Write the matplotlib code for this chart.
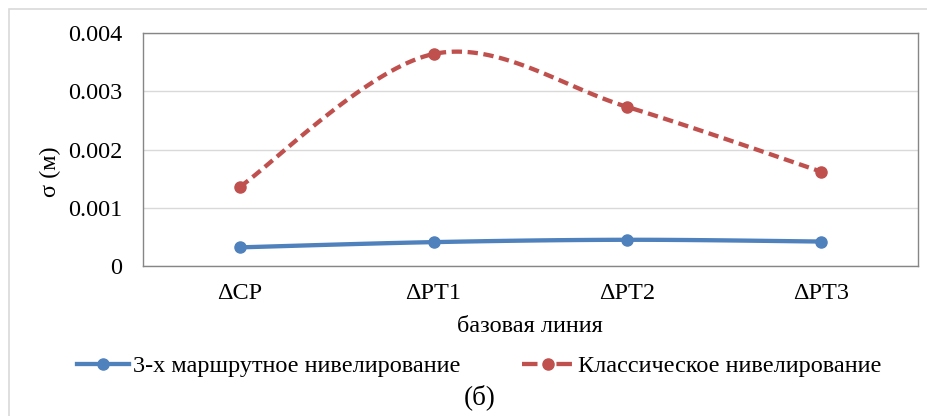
import numpy as np
import matplotlib
matplotlib.use("Agg")
import matplotlib.pyplot as plt
from matplotlib.patches import Rectangle
from matplotlib.lines import Line2D

categories = ["ΔCP", "ΔPT1", "ΔPT2", "ΔPT3"]
route3 = [0.00032, 0.00041, 0.00045, 0.00042]
classic = [0.00136, 0.00364, 0.00273, 0.00162]
yticks = [0, 0.001, 0.002, 0.003, 0.004]
ytick_labels = ["0", "0.001", "0.002", "0.003", "0.004"]
name_route3 = "3-х маршрутное нивелирование"
name_classic = "Классическое нивелирование"

BLUE = "#4F81BD"
RED = "#C0504D"

plt.rcParams["font.family"] = ["Liberation Serif", "DejaVu Serif"]
FS = 17.5
LW = 3.1
MS = 8

def smooth(xs, ys, n=40):
    # Excel-like smoothing (Catmull-Rom style cubic Bezier)
    P = np.column_stack([xs, ys]).astype(float)
    m = len(P)
    out = []
    for i in range(m - 1):
        p0 = P[i - 1] if i > 0 else P[i]
        p1 = P[i]
        p2 = P[i + 1]
        p3 = P[i + 2] if i + 2 < m else P[i + 1]
        c1 = p1 + (p2 - p0) / 6.0
        c2 = p2 - (p3 - p1) / 6.0
        t = np.linspace(0, 1, n)[:, None]
        seg = ((1 - t) ** 3) * p1 + 3 * ((1 - t) ** 2) * t * c1 + 3 * (1 - t) * t ** 2 * c2 + t ** 3 * p2
        if i > 0:
            seg = seg[1:]
        out.append(seg)
    out = np.vstack(out)
    return out[:, 0], out[:, 1]

W, H = 927, 416
fig = plt.figure(figsize=(W / 100, H / 100), dpi=100)
fig.patch.set_facecolor("white")

# outer chart border (top and left visible)
fig.add_artist(Rectangle((9 / W, -0.1), 1.2, 1 - 9 / H + 0.1, transform=fig.transFigure,
                         fill=False, edgecolor="#D9D9D9", linewidth=1.2))

ax = fig.add_axes([143 / W, 1 - 266 / H, (918 - 143) / W, (266 - 33) / H])
x = np.arange(len(categories))

sx, sy = smooth(x, route3)
ax.plot(sx, sy, color=BLUE, linewidth=LW, solid_capstyle="round", zorder=3)
ax.plot(x, route3, linestyle="none", marker="o", markersize=MS, color=BLUE, zorder=4)

sx, sy = smooth(x, classic)
ax.plot(sx, sy, color=RED, linewidth=LW, linestyle=(0, (2.4, 1.3)), zorder=3)
ax.plot(x, classic, linestyle="none", marker="o", markersize=MS, color=RED, zorder=4)

ax.set_xlim(-0.5, len(categories) - 0.5)
ax.set_ylim(0, 0.004)
ax.set_xticks(x)
ax.set_xticklabels(categories, fontsize=FS)
ax.set_yticks(yticks)
ax.set_yticklabels(ytick_labels, fontsize=FS)
ax.tick_params(axis="both", length=0)
ax.tick_params(axis="y", pad=15)
ax.tick_params(axis="x", pad=12)
ax.grid(axis="y", color="#D9D9D9", linewidth=1.0)
ax.set_axisbelow(True)
for s in ax.spines.values():
    s.set_color("#868686")
    s.set_linewidth(1.0)

fig.text(530 / W, 1 - 326 / H, "базовая линия", ha="center", va="center", fontsize=FS)
fig.text(50 / W, 1 - 172 / H, "σ (м)", ha="center", va="center", rotation=90, fontsize=FS)
fig.text(480 / W, 1 - 397 / H, "(б)", ha="center", va="center", fontsize=FS + 2)

handles = [
    Line2D([], [], color=BLUE, linewidth=LW, marker="o", markersize=MS),
    Line2D([], [], color=RED, linewidth=LW, linestyle=(0, (3.6, 4.4)), marker="o", markersize=MS),
]
fig.legend(handles, [name_route3, name_classic], loc="center", bbox_to_anchor=(479 / W, 1 - 366 / H),
           ncol=2, frameon=False, fontsize=FS, handlelength=2.14, handletextpad=0.16,
           columnspacing=2.55, borderaxespad=0, borderpad=0)

fig.savefig("out.png", dpi=100)
